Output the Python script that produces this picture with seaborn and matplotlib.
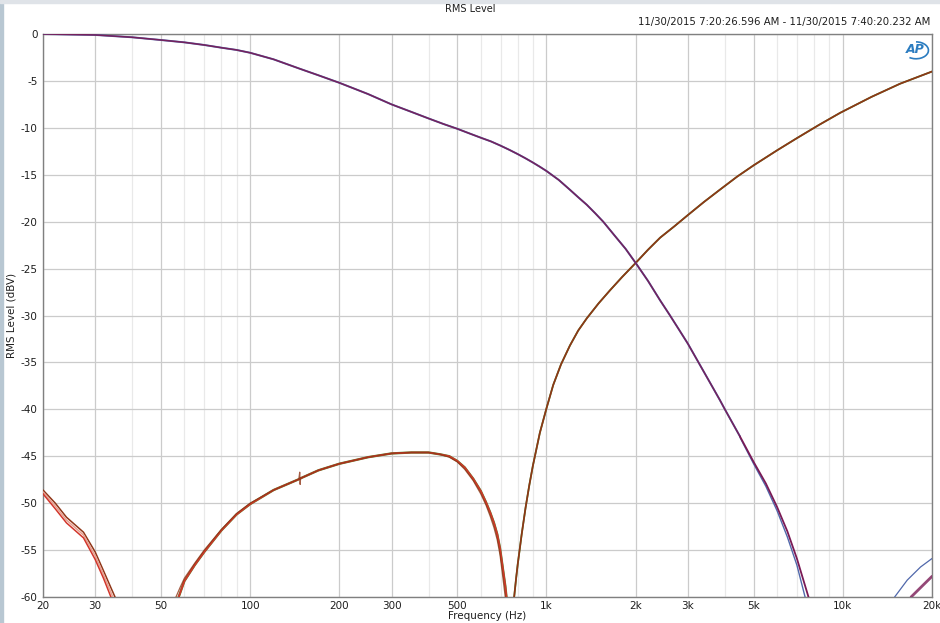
import numpy as np
import pandas as pd
import matplotlib
matplotlib.use("Agg")
import matplotlib.pyplot as plt
from matplotlib.patches import Rectangle, Arc
import seaborn as sns

# high-pass trace (3 channels), low segment before the first null
hp_low_freq = [20, 22, 24, 27.4, 30, 32, 34, 35]
hp_low_brown = [-48.6, -50.0, -51.5, -53.1, -55.2, -57.2, -59.1, -60.0]
hp_low_pink = [-48.8, -50.3, -51.8, -53.4, -55.6, -57.6, -59.6, -60.6]
hp_low_red = [-49.0, -50.6, -52.1, -53.7, -56.0, -58.0, -60.1, -61.2]

# hump between the two nulls
hp_mid_freq = [56.2, 58, 60, 65, 70, 80, 90, 100, 120, 146, 147, 147.5, 148, 170,
               200, 250, 300, 350, 400, 438, 470, 500, 530, 566, 600, 625, 646,
               665, 682, 697, 710, 726, 733]
hp_mid = [-60.0, -59.0, -58.0, -56.4, -55.0, -52.8, -51.1, -50.0, -48.6, -47.45,
          -46.7, -48.0, -47.35, -46.5, -45.8, -45.1, -44.7, -44.6, -44.6, -44.8,
          -45.1, -45.6, -46.4, -47.6, -49.0, -50.2, -51.4, -52.6, -53.9, -55.5,
          -57.5, -60.0, -61.5]
hp_mid_red = [-60.8, -59.6, -58.3, -56.6, -55.2, -52.9, -51.2, -50.1, -48.6, -47.45,
              -47.4, -47.4, -47.35, -46.5, -45.8, -45.1, -44.7, -44.6, -44.6, -44.8,
              -45.0, -45.5, -46.2, -47.4, -48.7, -49.9, -51.0, -52.1, -53.3, -54.8,
              -56.6, -58.8, -60.0]

# rising part above the second null
hp_high_freq = [778, 790, 800, 825, 850, 875, 900, 950, 1000, 1054, 1120, 1200,
                1280, 1368, 1500, 1640, 1800, 2000, 2200, 2420, 2700, 3000, 3400,
                3846, 4400, 5000, 6000, 7000, 8300, 9800, 12500, 15600, 20000]
hp_high = [-60.0, -58.0, -56.5, -53.3, -50.5, -48.1, -46.0, -42.5, -39.9, -37.4,
           -35.2, -33.2, -31.6, -30.3, -28.7, -27.3, -25.9, -24.4, -23.0, -21.7,
           -20.5, -19.3, -17.9, -16.6, -15.2, -14.0, -12.4, -11.1, -9.7, -8.4,
           -6.7, -5.3, -4.0]

# low-pass trace (2 channels)
lp_freq = [20, 30, 40, 50, 60, 70, 80, 90, 100, 120, 147, 170, 200, 250, 300, 350,
           400, 450, 500, 550, 600, 650, 700, 750, 800, 850, 900, 950, 1000, 1100,
           1200, 1280, 1368, 1460, 1554, 1700, 1850, 2000, 2200, 2420, 2600, 2800,
           3000, 3300, 3600, 3846, 4000, 4500]
lp_level = [0.0, -0.1, -0.35, -0.64, -0.89, -1.17, -1.46, -1.7, -2.0, -2.7, -3.7,
            -4.4, -5.2, -6.4, -7.5, -8.3, -9.0, -9.6, -10.1, -10.6, -11.05, -11.45,
            -11.9, -12.35, -12.8, -13.25, -13.7, -14.15, -14.6, -15.55, -16.6,
            -17.4, -18.2, -19.1, -20.0, -21.5, -22.9, -24.4, -26.3, -28.4, -29.9,
            -31.5, -33.0, -35.3, -37.4, -39.0, -40.0, -42.9]
lp_tail_freq = [4500, 5000, 5500, 6000, 6500, 7000, 7660]
lp_tail_maroon = [-42.9, -45.6, -47.9, -50.4, -53.0, -55.9, -60.0]
lp_tail_blue_freq = [4500, 5000, 5500, 6000, 6500, 7000, 7460]
lp_tail_blue = [-43.0, -45.8, -48.2, -50.8, -53.6, -56.6, -60.0]
lp_right_blue_freq = [14960, 16500, 18300, 20000]
lp_right_blue = [-60.0, -58.2, -56.8, -55.9]
lp_right_maroon_freq = [17000, 18300, 20000]
lp_right_maroon = [-60.0, -59.0, -57.8]

x_major = [20, 30, 50, 100, 200, 300, 500, 1000, 2000, 3000, 5000, 10000, 20000]
x_labels = ["20", "30", "50", "100", "200", "300", "500", "1k", "2k", "3k", "5k", "10k", "20k"]
x_minor = [40, 60, 70, 80, 90, 400, 600, 700, 800, 900, 4000, 6000, 7000, 8000, 9000]
y_ticks = list(range(0, -65, -5))

sns.set_style("white")
plt.rcParams["font.family"] = ["DejaVu Sans"]

fig = plt.figure(figsize=(9.4, 6.23), dpi=100)
ax = fig.add_axes([43 / 940, 1 - 597 / 623, 889 / 940, 563 / 623])
ax.set_xscale("log")

c_green = "#4f8a2f"
c_red = "#d2352a"
c_brown = "#8f3517"
c_pink = "#e8a090"
c_blue = "#5068ab"
c_maroon = "#7a1a55"


def line(x, y, color, lw, alpha=1.0, z=3):
    d = pd.DataFrame({"f": x, "db": y})
    sns.lineplot(data=d, x="f", y="db", color=color, lw=lw, alpha=alpha,
                 sort=False, estimator=None, ax=ax, zorder=z)


# high-pass channels
line(hp_low_freq, hp_low_brown, c_brown, 1.1)
line(hp_low_freq, hp_low_pink, c_pink, 1.1)
line(hp_low_freq, hp_low_red, c_red, 1.1)
line(hp_mid_freq, hp_mid_red, c_green, 1.7)
line(hp_mid_freq, hp_mid_red, c_red, 1.3)
line(hp_mid_freq, hp_mid, c_brown, 0.9, 0.8)
line(hp_high_freq, hp_high, c_green, 1.3)
line(hp_high_freq, hp_high, c_brown, 1.2)

# low-pass channels
line(lp_freq, lp_level, c_blue, 1.4)
line(lp_freq, lp_level, c_maroon, 1.1, 0.9)
line(lp_tail_blue_freq, lp_tail_blue, c_blue, 1.0)
line(lp_tail_freq, lp_tail_maroon, c_maroon, 1.3)
line(lp_right_blue_freq, lp_right_blue, c_blue, 0.9)
line(lp_right_maroon_freq, lp_right_maroon, c_maroon, 2.0, 0.8)

ax.set_xlim(20, 20000)
ax.set_ylim(-60, 0)
ax.set_xticks(x_major)
ax.set_xticklabels(x_labels)
ax.set_xticks(x_minor, minor=True)
ax.xaxis.set_minor_formatter(matplotlib.ticker.NullFormatter())
ax.set_yticks(y_ticks)
ax.set_yticklabels([str(v) for v in y_ticks])
ax.grid(which="major", color="#cbcbcb", lw=0.9)
ax.grid(which="minor", axis="x", color="#e9e9e9", lw=0.9)
ax.tick_params(which="both", length=0, labelsize=7.5, labelcolor="#1e1e1e")
ax.tick_params(axis="x", pad=3)
ax.tick_params(axis="y", pad=4)
for s in ax.spines.values():
    s.set_color("#808080")
    s.set_linewidth(1.0)

ax.set_xlabel("Frequency (Hz)", fontsize=7.5, labelpad=0, color="#1e1e1e")
ax.set_ylabel("RMS Level (dBV)", fontsize=7.5, labelpad=3, color="#1e1e1e")

fig.text(470 / 940, 1 - 9 / 623, "RMS Level", ha="center", va="center",
         fontsize=7, color="#1e1e1e")
fig.text(930 / 940, 1 - 22 / 623,
         "11/30/2015 7:20:26.596 AM - 11/30/2015 7:40:20.232 AM",
         ha="right", va="center", fontsize=7.3, color="#1e1e1e")

# AP logo
ax.text(0.981, 0.972, "AP", transform=ax.transAxes, ha="center", va="center",
        fontsize=9, fontweight="bold", fontstyle="italic", color="#2b7cc0")
ax.add_patch(Arc((0.982, 0.971), 0.028, 0.03, theta1=-120, theta2=90,
                 transform=ax.transAxes, color="#2b7cc0", lw=1.2))

# window frame strips
fig.patches.append(Rectangle((0, 0), 3 / 940, 1, transform=fig.transFigure,
                             color="#b8c7d2", zorder=0))
fig.patches.append(Rectangle((0, 1 - 3 / 623), 1, 3 / 623, transform=fig.transFigure,
                             color="#dfe3e8", zorder=0))

fig.savefig("out.png", dpi=100)
